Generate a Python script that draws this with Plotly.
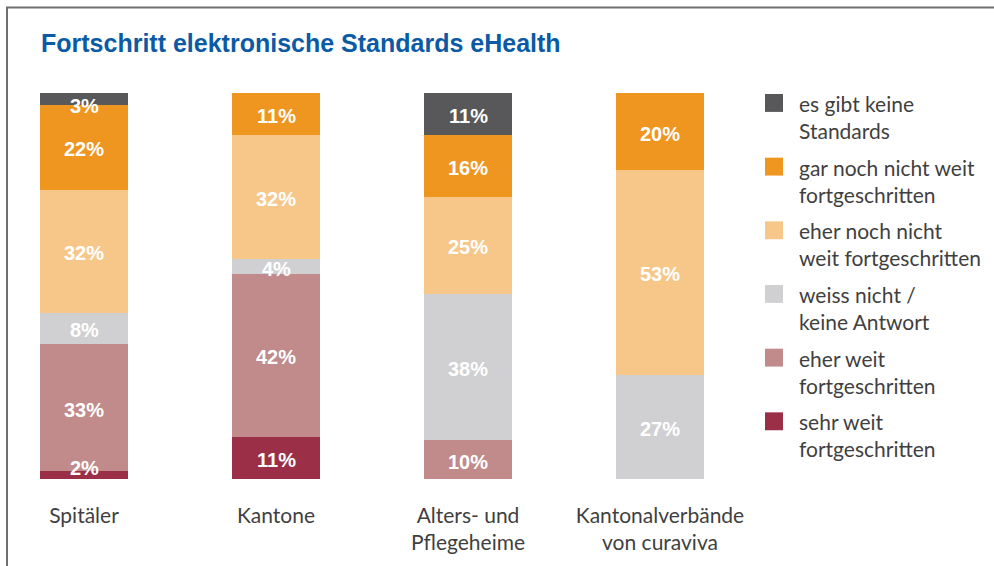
import plotly.graph_objects as go

categories = ["Spitäler", "Kantone", "Alters- und<br>Pflegeheime", "Kantonalverbände<br>von curaviva"]

# stacked from bottom to top
series_names = [
    "sehr weit<br>fortgeschritten",
    "eher weit<br>fortgeschritten",
    "weiss nicht /<br>keine Antwort",
    "eher noch nicht<br>weit fortgeschritten",
    "gar noch nicht weit<br>fortgeschritten",
    "es gibt keine<br>Standards",
]
sehr_weit = [2, 11, 0, 0]
eher_weit = [33, 42, 10, 0]
weiss_nicht = [8, 4, 38, 27]
eher_noch_nicht = [32, 32, 25, 53]
gar_noch_nicht = [22, 11, 16, 20]
keine_standards = [3, 0, 11, 0]
series_values = [sehr_weit, eher_weit, weiss_nicht, eher_noch_nicht, gar_noch_nicht, keine_standards]
colors = ["#9b2f48", "#c18a8b", "#d0d0d2", "#f7c78a", "#ee961f", "#58585a"]

W, H = 994, 566
L, R, T, B = 20, 254, 93, 85
PW = W - L - R
PH = H - T - B
UNIT = 192.0  # px per category
x0 = -(84 - L) / UNIT
x1 = x0 + PW / UNIT


def px2x(px):
    return (px - L) / PW


def py2y(py):
    return (H - B - py) / PH


xs = list(range(len(categories)))
fig = go.Figure()
for name, vals, col in zip(series_names, series_values, colors):
    fig.add_trace(go.Bar(
        x=xs, y=vals, name=name, marker=dict(color=col, line=dict(width=0)),
        width=88 / UNIT, showlegend=False, hoverinfo="skip",
    ))

annotations = []
# segment labels
for i in xs:
    base = 0
    for vals in series_values:
        v = vals[i]
        if v > 0:
            yc = base + v / 2
            yc = min(max(yc, 3.3), 97.2)
            annotations.append(dict(
                x=i, y=yc, xref="x", yref="y", text=f"<b>{v}%</b>", showarrow=False,
                font=dict(family="Liberation Sans", size=20, color="white"),
                xanchor="center", yanchor="middle", yshift=-2,
            ))
        base += v

# title
annotations.append(dict(
    x=px2x(39), y=py2y(43), xref="paper", yref="paper",
    text="<b>Fortschritt elektronische Standards eHealth</b>", showarrow=False,
    xanchor="left", yanchor="middle",
    font=dict(family="Liberation Sans", size=25, color="#0b5aa6"),
))

# manual legend (top entry first)
shapes = []
for k, (name, col) in enumerate(zip(series_names[::-1], colors[::-1])):
    top = 94 + k * 64
    shapes.append(dict(
        type="rect", xref="paper", yref="paper",
        x0=px2x(765), x1=px2x(783), y0=py2y(top + 18), y1=py2y(top),
        fillcolor=col, line=dict(width=0),
    ))
    annotations.append(dict(
        x=px2x(797), y=py2y(top - 5), xref="paper", yref="paper", text=name,
        showarrow=False, xanchor="left", yanchor="top", align="left",
        font=dict(family="Lato", size=21, color="#3f3f3f"),
    ))

# frame
shapes.append(dict(
    type="path", xref="paper", yref="paper",
    path=f"M {px2x(7)} {py2y(570)} L {px2x(7)} {py2y(7)} L {px2x(1000)} {py2y(7)}",
    line=dict(color="#6f6f6f", width=2),
))

fig.update_layout(
    width=W, height=H, barmode="stack",
    margin=dict(l=L, r=R, t=T, b=B),
    paper_bgcolor="white", plot_bgcolor="white",
    xaxis=dict(range=[x0, x1], tickvals=xs, ticktext=categories, showgrid=False,
               zeroline=False, showline=False, ticks="", ticklabelstandoff=22,
               tickfont=dict(family="Lato", size=21, color="#3f3f3f")),
    yaxis=dict(range=[0, 100], visible=False, showgrid=False, zeroline=False),
    annotations=annotations, shapes=shapes, showlegend=False,
)
fig.write_html("out.html", config={"displayModeBar": False, "staticPlot": True},
               post_script="document.body.style.margin='0';document.body.style.overflow='hidden';")
